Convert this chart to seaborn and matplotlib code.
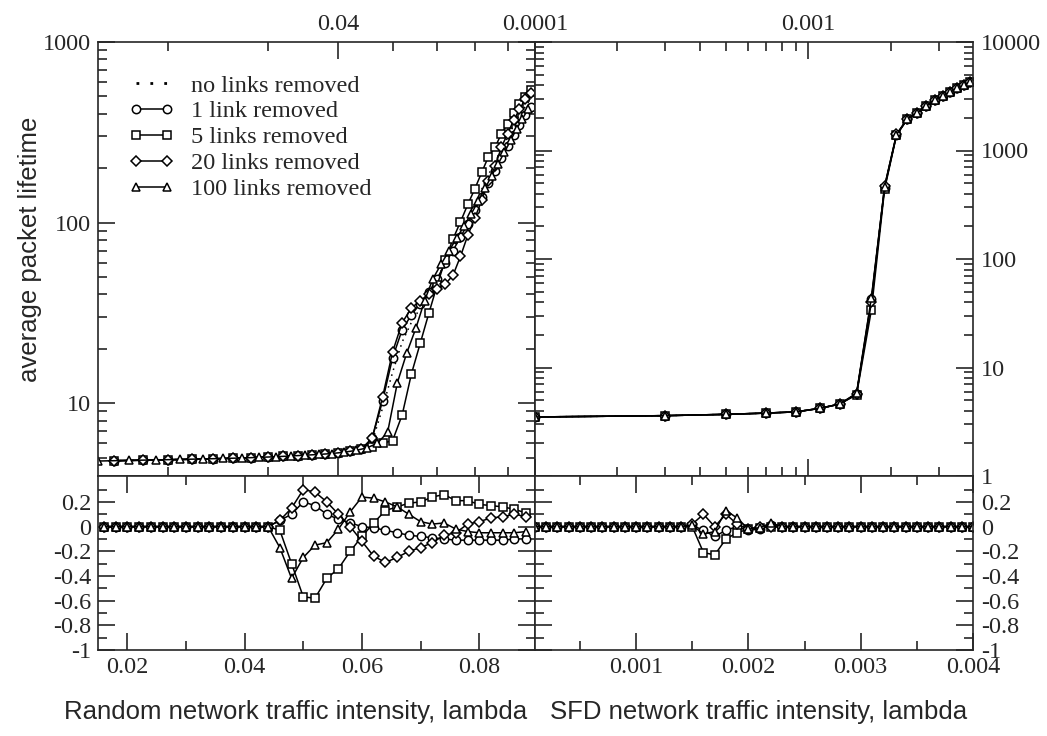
import matplotlib
matplotlib.use("Agg")
import matplotlib.pyplot as plt
import seaborn as sns
from matplotlib.ticker import FixedLocator, FixedFormatter, NullFormatter
from matplotlib.lines import Line2D

# ---------------- data ----------------
# Random network (upper: log x; lower: linear x)
rand_x_even = [0.016, 0.018, 0.020, 0.022, 0.024, 0.026, 0.028, 0.030, 0.032, 0.034,
               0.036, 0.038, 0.040, 0.042, 0.044, 0.046, 0.048, 0.050, 0.052, 0.054,
               0.056, 0.058, 0.060, 0.062, 0.064, 0.066, 0.068, 0.070, 0.072, 0.074,
               0.076, 0.078, 0.080, 0.082, 0.084, 0.086, 0.088]
rand_x_odd = [0.015, 0.017, 0.019, 0.021, 0.023, 0.025, 0.027, 0.029, 0.031, 0.033,
              0.035, 0.037, 0.039, 0.041, 0.043, 0.045, 0.047, 0.049, 0.051, 0.053,
              0.055, 0.057, 0.059, 0.061, 0.063, 0.065, 0.067, 0.069, 0.071, 0.073,
              0.075, 0.077, 0.079, 0.081, 0.083, 0.085, 0.087]

rand_none = [4.8, 4.83, 4.86, 4.89, 4.92, 4.95, 4.99, 5.03, 5.07, 5.12, 5.17, 5.23, 5.3, 5.4, 5.55,
             6.1, 9.4, 14.8, 21.8, 28, 33.6, 40, 49, 60, 72, 87, 106, 128, 153, 184, 216, 256,
             298, 344, 392, 438, 486]
rand_1 = [4.8, 4.83, 4.86, 4.89, 4.92, 4.95, 4.99, 5.03, 5.07, 5.12, 5.17, 5.23, 5.3, 5.4, 5.55,
          6.4, 10.3, 17.8, 25.5, 30.8, 35.6, 41.2, 49, 59.4, 70, 83, 98.6, 118, 139, 166, 192,
          228, 265, 306, 349, 394, 437]
rand_5 = [4.8, 4.83, 4.86, 4.89, 4.92, 4.95, 4.99, 5.03, 5.07, 5.12, 5.17, 5.23, 5.3, 5.4, 5.55,
          5.75, 6.0, 6.2, 8.6, 14.5, 21.5, 31.5, 45, 62, 81, 101, 126, 154, 190, 232, 261,
          310, 352, 402, 455, 499, 540]
rand_20 = [4.8, 4.83, 4.86, 4.89, 4.92, 4.95, 4.99, 5.03, 5.07, 5.12, 5.17, 5.23, 5.3, 5.4, 5.55,
           6.4, 10.8, 19.2, 27.9, 33.6, 37, 40, 43, 45.6, 51, 65, 85, 106, 133, 171, 205,
           261, 310, 368, 423, 482, 525]
rand_100 = [4.78, 4.82, 4.85, 4.88, 4.91, 4.94, 4.97, 5.01, 5.05, 5.1, 5.15, 5.2, 5.26, 5.35, 5.47,
            5.65, 6.0, 6.9, 13, 19, 26, 37, 49, 59, 70, 82, 96, 112, 132, 155, 182, 212,
            245, 285, 330, 375, 425]

zeros15 = [0.0] * 15
rand_d1 = zeros15 + [0.05, 0.1, 0.2, 0.17, 0.1, 0.06, 0.03, 0.0, -0.01, -0.03, -0.05, -0.07,
                     -0.08, -0.09, -0.1, -0.11, -0.11, -0.11, -0.11, -0.11, -0.1, -0.1]
rand_d5 = zeros15 + [-0.03, -0.3, -0.57, -0.58, -0.42, -0.34, -0.2, -0.08, 0.03, 0.13, 0.16,
                     0.19, 0.2, 0.24, 0.26, 0.21, 0.21, 0.18, 0.17, 0.16, 0.14, 0.11]
rand_d20 = zeros15 + [0.05, 0.15, 0.3, 0.28, 0.2, 0.1, 0.0, -0.12, -0.24, -0.29, -0.25, -0.2,
                      -0.17, -0.13, -0.07, -0.05, 0.02, 0.04, 0.07, 0.08, 0.1, 0.08]
rand_d100 = zeros15 + [-0.17, -0.42, -0.25, -0.15, -0.13, -0.02, 0.12, 0.24, 0.23, 0.2, 0.16,
                       0.1, 0.04, 0.02, 0.03, -0.02, -0.04, -0.05, -0.05, -0.05, -0.05, -0.04]

# SFD network
sfd_x = [0.0001, 0.0003, 0.0005, 0.0007, 0.0009, 0.0011, 0.0013, 0.0015, 0.0017, 0.0019,
         0.0021, 0.0023, 0.0025, 0.0027, 0.0029, 0.0031, 0.0033, 0.0035, 0.0037, 0.0039]
sfd_none = [3.5, 3.6, 3.7, 3.8, 3.9, 4.2, 4.6, 5.7, 41, 460, 1400, 1950, 2220, 2570, 2900, 3180, 3460, 3760, 4000, 4300]
sfd_1 = [3.5, 3.6, 3.7, 3.8, 3.9, 4.2, 4.6, 5.7, 43, 455, 1390, 1950, 2220, 2570, 2900, 3180, 3460, 3760, 4000, 4300]
sfd_5 = [3.5, 3.6, 3.7, 3.8, 3.9, 4.2, 4.6, 5.6, 34, 440, 1380, 1940, 2210, 2570, 2900, 3180, 3460, 3760, 4000, 4300]
sfd_20 = [3.5, 3.6, 3.7, 3.8, 3.9, 4.2, 4.6, 5.7, 40, 470, 1410, 1960, 2230, 2570, 2900, 3180, 3460, 3760, 4000, 4300]
sfd_100 = [3.5, 3.6, 3.7, 3.8, 3.9, 4.2, 4.6, 5.8, 44, 465, 1400, 1950, 2220, 2570, 2900, 3180, 3460, 3760, 4000, 4300]

sfd_xf = [0.0001, 0.0002, 0.0003, 0.0004, 0.0005, 0.0006, 0.0007, 0.0008, 0.0009, 0.0010,
          0.0011, 0.0012, 0.0013, 0.0014, 0.0015, 0.0016, 0.0017, 0.0018, 0.0019, 0.0020,
          0.0021, 0.0022, 0.0023, 0.0024, 0.0025, 0.0026, 0.0027, 0.0028, 0.0029, 0.0030,
          0.0031, 0.0032, 0.0033, 0.0034, 0.0035, 0.0036, 0.0037, 0.0038, 0.0039, 0.0040]
z14 = [0.0] * 14
z18 = [0.0] * 18
sfd_d1 = z14 + [0.01, -0.03, -0.08, -0.03, 0.0, -0.03, -0.02, 0.01] + z18
sfd_d5 = z14 + [0.0, -0.21, -0.23, -0.1, -0.05, -0.02, -0.01, 0.0] + z18
sfd_d20 = z14 + [0.02, 0.1, 0.0, 0.1, 0.02, -0.02, 0.0, 0.0] + z18
sfd_d100 = z14 + [0.01, -0.06, -0.04, 0.13, 0.07, -0.02, -0.01, 0.03] + z18

legend_labels = ["no links removed", "1 link removed", "5 links removed",
                 "20 links removed", "100 links removed"]

# ---------------- style ----------------
sns.set_style("ticks")
plt.rcParams['font.family'] = ['Liberation Serif', 'DejaVu Serif']
plt.rcParams['axes.unicode_minus'] = False
plt.rcParams['axes.linewidth'] = 1.2

W, H = 1047, 736
fig = plt.figure(figsize=(W / 100, H / 100), dpi=100)


def rect(x0, y0, x1, y1):
    return [x0 / W, 1 - y1 / H, (x1 - x0) / W, (y1 - y0) / H]


ax_ul = fig.add_axes(rect(98, 42, 535, 476))
ax_ur = fig.add_axes(rect(535, 42, 973, 476))
ax_ll = fig.add_axes(rect(98, 476, 535, 650))
ax_lr = fig.add_axes(rect(535, 476, 973, 650))

for ax in (ax_ul, ax_ur):
    ax.set_xscale('log')
    ax.set_yscale('log')

MS = {'o': 6.0, 's': 5.8, 'D': 4.6, '^': 6.2}
DOT = (0, (1, 3))


def draw(ax, x, y, marker=None, ls='-'):
    kw = dict(x=x, y=y, ax=ax, color='black', linewidth=1.1, linestyle=ls,
              sort=False, estimator=None, legend=False)
    if marker is not None:
        kw.update(marker=marker, markersize=MS[marker], markerfacecolor='white',
                  markeredgecolor='black', markeredgewidth=1.1)
    sns.lineplot(**kw)


# upper left
draw(ax_ul, rand_x_even, rand_none, None, DOT)
draw(ax_ul, rand_x_even, rand_1, 'o')
draw(ax_ul, rand_x_even, rand_5, 's')
draw(ax_ul, rand_x_even, rand_20, 'D')
draw(ax_ul, rand_x_odd, rand_100, '^')
# lower left
draw(ax_ll, rand_x_even, rand_d1, 'o')
draw(ax_ll, rand_x_even, rand_d5, 's')
draw(ax_ll, rand_x_even, rand_d20, 'D')
draw(ax_ll, rand_x_even, rand_d100, '^')
# upper right
draw(ax_ur, sfd_x, sfd_none, None, DOT)
draw(ax_ur, sfd_x, sfd_1, 'o')
draw(ax_ur, sfd_x, sfd_5, 's')
draw(ax_ur, sfd_x, sfd_20, 'D')
draw(ax_ur, sfd_x, sfd_100, '^')
# lower right
draw(ax_lr, sfd_xf, sfd_d1, 'o')
draw(ax_lr, sfd_xf, sfd_d5, 's')
draw(ax_lr, sfd_xf, sfd_d20, 'D')
draw(ax_lr, sfd_xf, sfd_d100, '^')

TS = 17.5
for ax in (ax_ul, ax_ur, ax_ll, ax_lr):
    ax.tick_params(which='both', direction='in', top=True, right=True, bottom=True, left=True,
                   width=1.2, labelsize=TS, pad=5)
    ax.tick_params(which='major', length=12)
    ax.tick_params(which='minor', length=6.5)
    ax.set_xlabel('')
    ax.set_ylabel('')

# ---- upper left axes
ax_ul.set_xlim(0.015, 0.0895)
ax_ul.set_ylim(3.95, 1000)
ax_ul.xaxis.set_major_locator(FixedLocator([0.04]))
ax_ul.xaxis.set_major_formatter(FixedFormatter(['0.04']))
ax_ul.xaxis.set_minor_locator(FixedLocator([0.02, 0.03, 0.05, 0.06, 0.07, 0.08]))
ax_ul.xaxis.set_minor_formatter(NullFormatter())
ax_ul.tick_params(axis='x', which='both', labeltop=True, labelbottom=False)
ax_ul.yaxis.set_major_locator(FixedLocator([10, 100, 1000]))
ax_ul.yaxis.set_major_formatter(FixedFormatter(['10', '100', '1000']))
ax_ul.yaxis.set_minor_locator(FixedLocator([5, 6, 7, 8, 9, 20, 30, 40, 50, 60, 70, 80, 90,
                                            200, 300, 400, 500, 600, 700, 800, 900]))
ax_ul.yaxis.set_minor_formatter(NullFormatter())
ax_ul.tick_params(axis='y', which='both', labelleft=True, labelright=False)

# ---- upper right axes
ax_ur.set_xlim(0.0001, 0.004)
ax_ur.set_ylim(1, 10000)
ax_ur.xaxis.set_major_locator(FixedLocator([0.0001, 0.001]))
ax_ur.xaxis.set_major_formatter(FixedFormatter(['0.0001', '0.001']))
ax_ur.xaxis.set_minor_locator(FixedLocator([0.0002, 0.0003, 0.0004, 0.0005, 0.0006, 0.0007,
                                            0.0008, 0.0009, 0.002, 0.003]))
ax_ur.xaxis.set_minor_formatter(NullFormatter())
ax_ur.tick_params(axis='x', which='both', labeltop=True, labelbottom=False)
ax_ur.yaxis.set_major_locator(FixedLocator([1, 10, 100, 1000, 10000]))
ax_ur.yaxis.set_major_formatter(FixedFormatter(['1', '10', '100', '1000', '10000']))
minors = []
for d in (1, 10, 100, 1000):
    for m in range(2, 10):
        minors.append(m * d)
ax_ur.yaxis.set_minor_locator(FixedLocator(minors))
ax_ur.yaxis.set_minor_formatter(NullFormatter())
ax_ur.tick_params(axis='y', which='both', labelleft=False, labelright=True, pad=6)

# ---- lower axes
dy_major = [-1, -0.8, -0.6, -0.4, -0.2, 0, 0.2]
dy_labels = ['-1', '-0.8', '-0.6', '-0.4', '-0.2', '0', '0.2']
dy_minor = [-0.9, -0.7, -0.5, -0.3, -0.1, 0.1, 0.3]
for ax in (ax_ll, ax_lr):
    ax.set_ylim(-1, 0.41)
    ax.yaxis.set_major_locator(FixedLocator(dy_major))
    ax.yaxis.set_major_formatter(FixedFormatter(dy_labels))
    ax.yaxis.set_minor_locator(FixedLocator(dy_minor))
    ax.yaxis.set_minor_formatter(NullFormatter())

ax_ll.set_xlim(0.015, 0.0895)
ax_ll.xaxis.set_major_locator(FixedLocator([0.02, 0.04, 0.06, 0.08]))
ax_ll.xaxis.set_major_formatter(FixedFormatter(['0.02', '0.04', '0.06', '0.08']))
ax_ll.xaxis.set_minor_locator(FixedLocator([0.03, 0.05, 0.07]))
ax_ll.xaxis.set_minor_formatter(NullFormatter())
ax_ll.tick_params(axis='y', which='both', labelleft=True, labelright=False)

ax_lr.set_xlim(0.0001, 0.004)
ax_lr.xaxis.set_major_locator(FixedLocator([0.001, 0.002, 0.003, 0.004]))
ax_lr.xaxis.set_major_formatter(FixedFormatter(['0.001', '0.002', '0.003', '0.004']))
ax_lr.xaxis.set_minor_locator(FixedLocator([0.0005, 0.0015, 0.0025, 0.0035]))
ax_lr.xaxis.set_minor_formatter(NullFormatter())
ax_lr.tick_params(axis='y', which='both', labelleft=False, labelright=True, pad=6)

for ax in (ax_ll, ax_lr):
    ax.tick_params(axis='x', which='both', labelbottom=True, labeltop=False)

# ---- legend
mk = [None, 'o', 's', 'D', '^']
handles = []
for m, lab in zip(mk, legend_labels):
    if m is None:
        h = Line2D([0], [0], color='black', linestyle=(0, (1, 4)), linewidth=2.0)
    else:
        h = Line2D([0], [0], color='black', linewidth=1.1, marker=m, markersize=MS[m],
                   markerfacecolor='white', markeredgecolor='black', markeredgewidth=1.1)
    handles.append(h)
ax_ul.legend(handles, legend_labels, loc='upper left', bbox_to_anchor=(0.07, 0.925),
             frameon=False, fontsize=17.5, numpoints=2, handlelength=1.9,
             labelspacing=0.16, handletextpad=0.65, borderpad=0, borderaxespad=0)

# ---- axis titles
sans = ['Liberation Sans', 'DejaVu Sans']
fig.text(30 / W, 1 - 249 / H, 'average packet lifetime', rotation=90, ha='center', va='center',
         fontsize=18.5, family=sans)
fig.text(296 / W, 1 - 712 / H, 'Random network traffic intensity, lambda', ha='center',
         va='center', fontsize=18.5, family=sans)
fig.text(759 / W, 1 - 712 / H, 'SFD network traffic intensity, lambda', ha='center',
         va='center', fontsize=18.5, family=sans)

fig.savefig('out.png', dpi=100)
